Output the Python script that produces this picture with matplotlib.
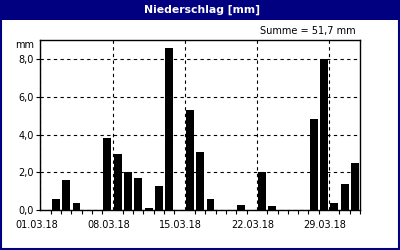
import matplotlib
matplotlib.use("Agg")
import matplotlib.pyplot as plt
import matplotlib.transforms as mtransforms
from matplotlib.patches import Rectangle

# Tageswerte Niederschlag März 2018 (mm)
days = list(range(1, 32))
rain = [0.0, 0.6, 1.6, 0.4, 0.0, 0.0, 3.8, 3.0, 2.0, 1.7,
        0.1, 1.3, 8.6, 0.0, 5.3, 3.1, 0.6, 0.0, 0.0, 0.3,
        0.0, 2.0, 0.2, 0.0, 0.0, 0.0, 4.8, 8.0, 0.4, 1.4, 2.5]
label_days = [1, 8, 15, 22, 29]
date_labels = ["01.03.18", "08.03.18", "15.03.18", "22.03.18", "29.03.18"]
y_ticks = [0, 2, 4, 6, 8]
title = "Niederschlag [mm]"

NAVY = "#000080"
plt.rcParams["font.family"] = ["DejaVu Sans"]

fig = plt.figure(figsize=(4, 2.5), dpi=100)
fig.patch.set_facecolor("white")

# Titelleiste + Rahmen
fig.patches.append(Rectangle((0, 0.92), 1, 0.08, transform=fig.transFigure,
                             facecolor=NAVY, edgecolor="none", zorder=0))
fig.patches.append(Rectangle((0.002, 0.003), 0.995, 0.995, transform=fig.transFigure,
                             facecolor="none", edgecolor=NAVY, linewidth=1.5, zorder=5))
fig.text(0.505, 0.96, title, color="white", fontsize=7.8, fontweight="bold",
         ha="center", va="center")

ax = fig.add_axes([0.101, 0.159, 0.799, 0.681])
x = [d - 0.5 for d in days]
ax.bar(x, rain, width=0.77, color="black", zorder=3)

ax.set_xlim(0, 31)
ax.set_ylim(0, 9)

ax.set_yticks(y_ticks)
ax.set_yticklabels([f"{v:.1f}".replace(".", ",") for v in y_ticks], fontsize=7)
ax.set_xticks([d - 1 for d in label_days])
ax.set_xticklabels(date_labels, fontsize=7)
ax.set_xticks(range(0, 32), minor=True)
ax.tick_params(axis="x", which="major", length=0, pad=7)
ax.tick_params(axis="x", which="minor", length=3, width=0.8, direction="out")
ax.tick_params(axis="y", length=3, width=0.8, pad=2)

# Datumsbeschriftung leicht nach links versetzt
shift = mtransforms.ScaledTranslation(-4 / 100, 0, fig.dpi_scale_trans)
for lab in ax.get_xticklabels():
    lab.set_transform(lab.get_transform() + shift)

ax.grid(True, which="major", color="black", linestyle=(0, (3, 3)), linewidth=0.8, zorder=1)
for s in ax.spines.values():
    s.set_linewidth(1)

ax.text(-0.02, 0.97, "mm", transform=ax.transAxes, fontsize=7, ha="right", va="center")
ax.text(0.985, 1.053, "Summe = 51,7 mm", transform=ax.transAxes, fontsize=7,
        ha="right", va="center")

fig.savefig("out.png", dpi=100)
